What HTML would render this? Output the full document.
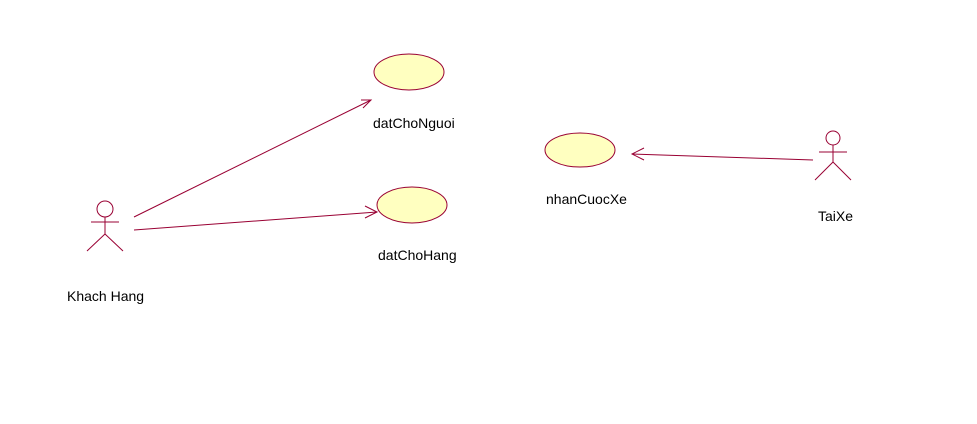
<!DOCTYPE html>
<html><head><meta charset="utf-8"><style>
html,body{margin:0;padding:0;background:#fff;}
svg{display:block;}
text{font-family:"Liberation Sans",Arial,sans-serif;font-size:14px;fill:#000;}
</style></head><body>
<svg width="977" height="424" xmlns="http://www.w3.org/2000/svg">
<g fill="#ffffc0" stroke="#990033" stroke-width="1">
<ellipse cx="409" cy="72" rx="35" ry="18"/>
<ellipse cx="412" cy="205" rx="35" ry="18"/>
<ellipse cx="580" cy="150" rx="35" ry="17"/>
</g>
<g stroke="#990033" stroke-width="1" fill="none">
<circle cx="105" cy="209" r="8"/>
<line x1="91" y1="222" x2="119" y2="222"/>
<line x1="105" y1="217" x2="105" y2="234"/>
<line x1="105" y1="234" x2="87" y2="251"/>
<line x1="105" y1="234" x2="123" y2="251"/>
<circle cx="833" cy="138" r="7"/>
<line x1="819" y1="152" x2="847" y2="152"/>
<line x1="833" y1="145" x2="833" y2="162"/>
<line x1="833" y1="162" x2="815" y2="180"/>
<line x1="833" y1="162" x2="851" y2="180"/>
<line x1="134" y1="217" x2="371" y2="100"/>
<polyline points="361,100 371,100 363,108"/>
<line x1="134" y1="230" x2="377" y2="212"/>
<polyline points="365,206 377,212 365,218"/>
<line x1="813" y1="160" x2="632" y2="154"/>
<polyline points="644,148 632,154 644,160"/>
</g>
<text x="373" y="128">datChoNguoi</text>
<text x="378" y="260">datChoHang</text>
<text x="67" y="301">Khach Hang</text>
<text x="546" y="204">nhanCuocXe</text>
<text x="818" y="221">TaiXe</text>
</svg>
</body></html>
